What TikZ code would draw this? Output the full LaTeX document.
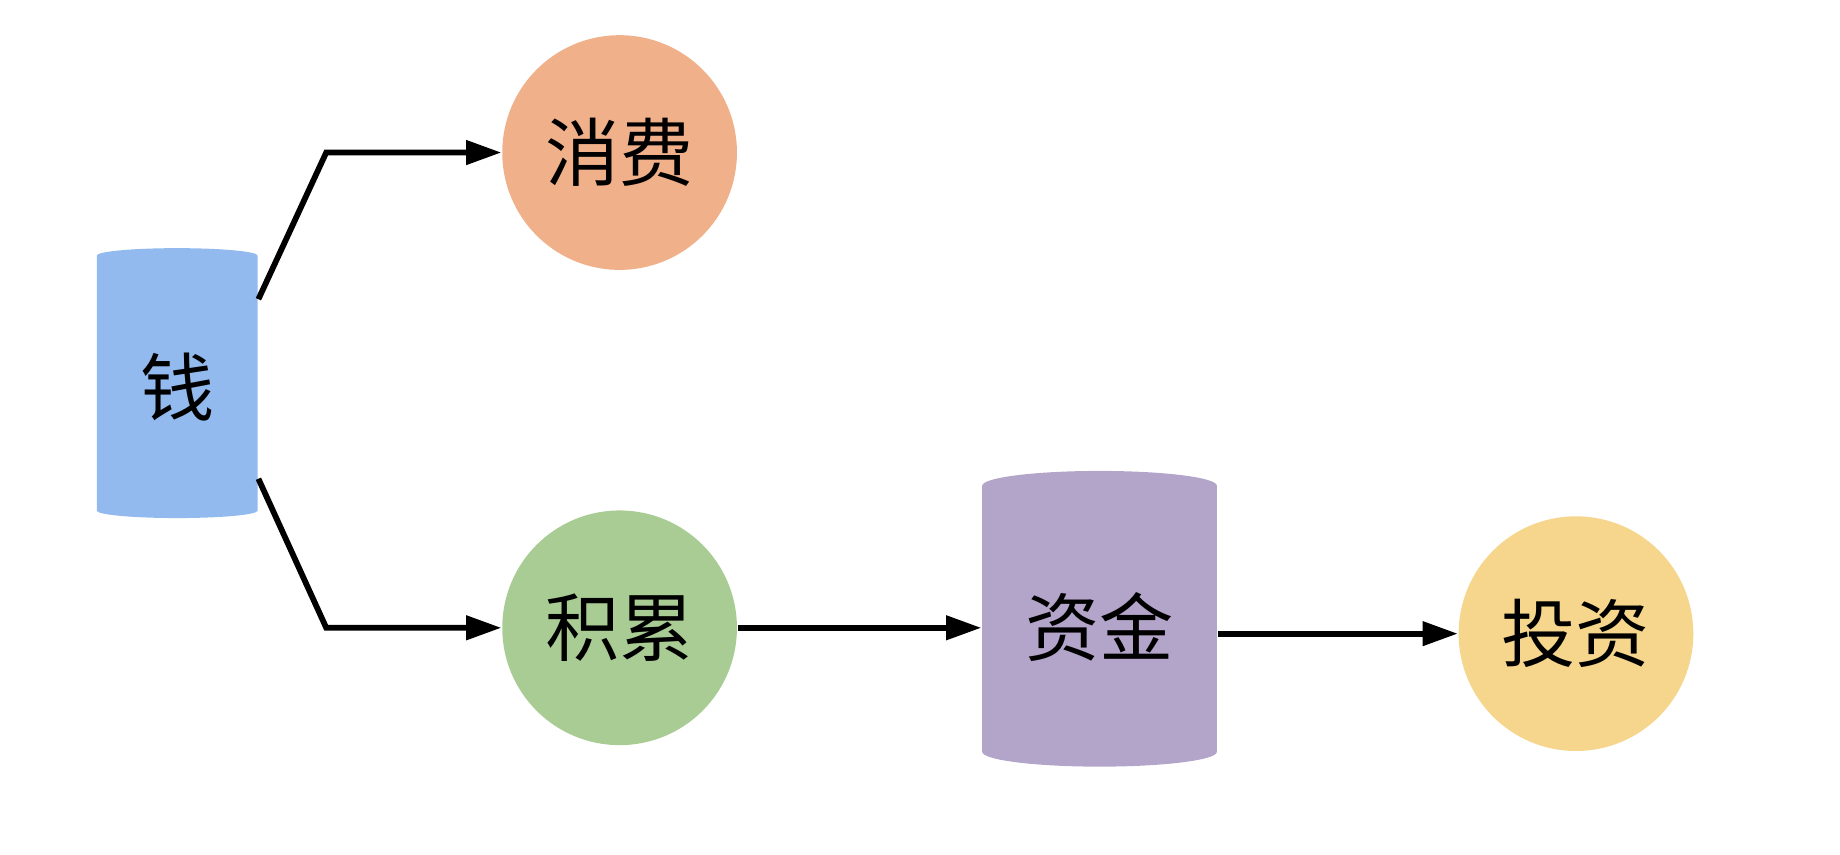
\documentclass[tikz,border=0pt]{standalone}
\usepackage{fontspec}
\setmainfont{Noto Sans CJK SC}
\usetikzlibrary{arrows.meta, shapes.geometric, positioning}
\definecolor{moneyblue}{HTML}{92BAEE}
\definecolor{spendorange}{HTML}{F0B08A}
\definecolor{savegreen}{HTML}{A9CC95}
\definecolor{fundpurple}{HTML}{B3A4C9}
\definecolor{investyellow}{HTML}{F5D68C}
\tikzset{
  ball/.style={circle, minimum size=2cm, inner sep=0pt, font=\fontsize{18}{20}\selectfont},
  drum/.style={cylinder, shape border rotate=90, aspect=0.2, inner sep=0pt, font=\fontsize{18}{20}\selectfont},
  flow/.style={line width=1.4pt, -{Triangle[length=0.3cm, width=0.2cm]}}
}
\begin{document}
\begin{tikzpicture}
\useasboundingbox (0,0) rectangle (15.68,7.28);

% Stores
\node[drum, fill=moneyblue, minimum width=1.37cm, minimum height=2.3cm] (money) at (1.51,3.98) {钱};
\node[drum, fill=fundpurple, minimum width=2cm, minimum height=2.52cm] (fund) at (9.37,1.94) {资金};

% Circles
\node[ball, fill=spendorange] (spend) at (5.28,5.98) {消费};
\node[ball, fill=savegreen] (save) at (5.28,1.93) {积累};
\node[ball, fill=investyellow] (invest) at (13.43,1.88) {投资};

% Bends
\coordinate (upbend) at (2.78,5.98);
\coordinate (downbend) at (2.78,1.93);

% Arrows
\draw[flow] ([yshift=0.75cm]money.east) -- (upbend) -- (spend.west);
\draw[flow] ([yshift=-0.78cm]money.east) -- (downbend) -- (save.west);
\draw[flow] (save.east) -- (fund.west |- save.east);
\draw[flow] (fund.east |- invest.west) -- (invest.west);
\end{tikzpicture}
\end{document}
